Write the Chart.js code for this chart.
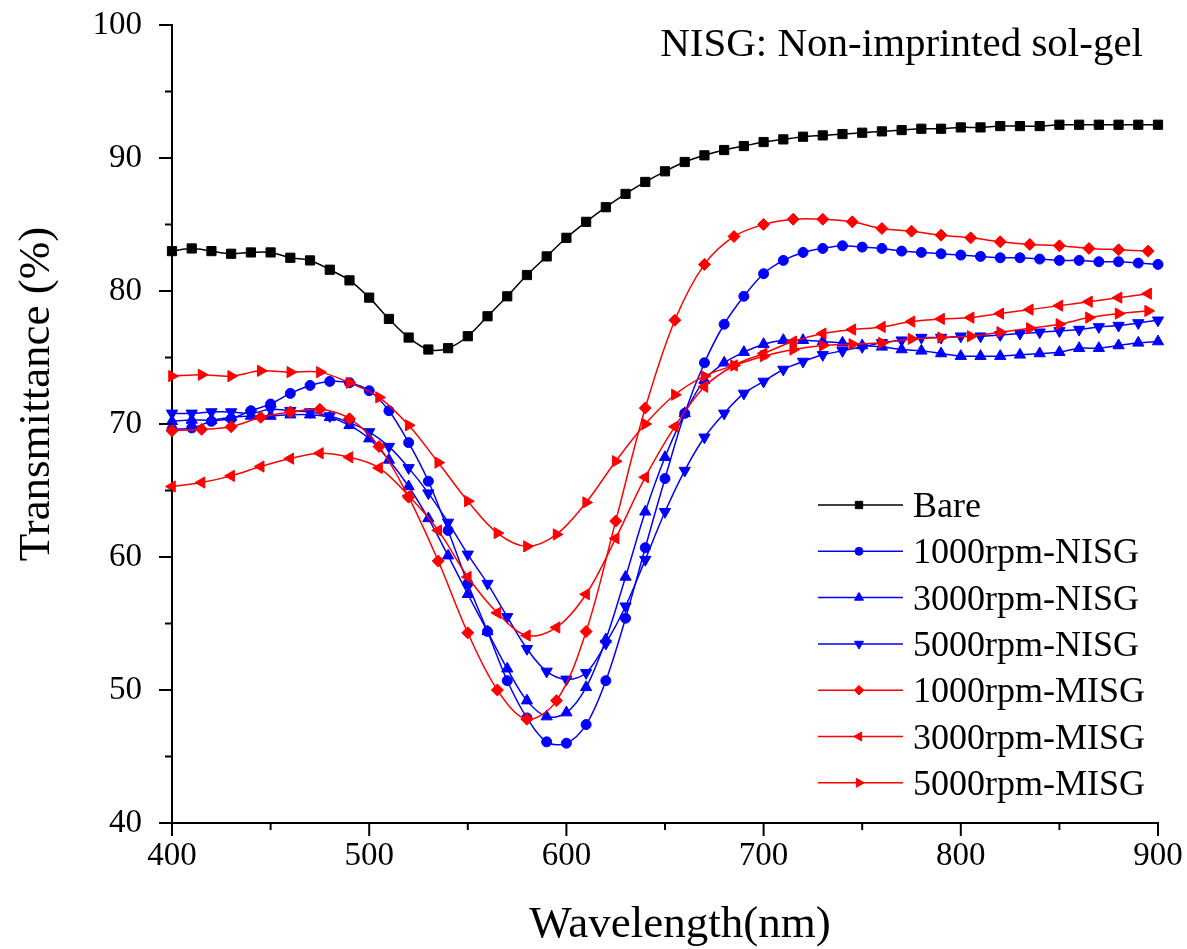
<!DOCTYPE html>
<html>
<head>
<meta charset="utf-8">
<title>Transmittance</title>
<script src="https://cdn.jsdelivr.net/npm/chart.js@4.4.0/dist/chart.umd.min.js"></script>
<style>
  html, body { margin: 0; padding: 0; background: #fff; }
  #wrap { width: 1187px; height: 949px; }
</style>
</head>
<body>
<div id="wrap"><canvas id="transChart" width="1187" height="949"></canvas></div>
<script>
// wavelengths (nm): bare + NISG sampled every 10 nm, MISG every 15 nm
const wl10 = [400, 410, 420, 430, 440, 450, 460, 470, 480, 490,
              500, 510, 520, 530, 540, 550, 560, 570, 580, 590,
              600, 610, 620, 630, 640, 650, 660, 670, 680, 690,
              700, 710, 720, 730, 740, 750, 760, 770, 780, 790,
              800, 810, 820, 830, 840, 850, 860, 870, 880, 890, 900];
const wl15 = [400, 415, 430, 445, 460, 475, 490, 505, 520, 535,
              550, 565, 580, 595, 610, 625, 640, 655, 670, 685,
              700, 715, 730, 745, 760, 775, 790, 805, 820, 835,
              850, 865, 880, 895];

const bare = [83.0, 83.2, 83.0, 82.8, 82.9, 82.9, 82.5, 82.3, 81.6, 80.8,
              79.5, 77.9, 76.5, 75.6, 75.7, 76.6, 78.1, 79.6, 81.2, 82.6,
              84.0, 85.2, 86.3, 87.3, 88.2, 89.0, 89.7, 90.2, 90.6, 90.9,
              91.2, 91.4, 91.6, 91.7, 91.8, 91.9, 92.0, 92.1, 92.2, 92.2,
              92.3, 92.3, 92.4, 92.4, 92.4, 92.5, 92.5, 92.5, 92.5, 92.5, 92.5];
const nisg1000 = [69.6, 69.7, 70.2, 70.4, 71.0, 71.5, 72.3, 72.9, 73.2, 73.1,
                  72.5, 71.0, 68.6, 65.7, 62.0, 58.0, 54.4, 50.7, 47.9, 46.1,
                  46.0, 47.4, 50.7, 55.4, 60.7, 65.9, 70.8, 74.6, 77.5, 79.6,
                  81.3, 82.3, 82.9, 83.2, 83.4, 83.3, 83.2, 83.0, 82.9, 82.8,
                  82.7, 82.6, 82.5, 82.5, 82.4, 82.3, 82.3, 82.2, 82.2, 82.1, 82.0];
const nisg3000 = [70.2, 70.3, 70.3, 70.5, 70.6, 70.6, 70.7, 70.7, 70.5, 69.9,
                  68.9, 67.3, 65.3, 62.9, 60.1, 57.2, 54.4, 51.6, 49.2, 48.0,
                  48.3, 50.2, 53.8, 58.5, 63.4, 67.5, 70.8, 73.3, 74.6, 75.4,
                  76.0, 76.3, 76.3, 76.2, 76.1, 75.9, 75.8, 75.6, 75.5, 75.3,
                  75.1, 75.1, 75.1, 75.2, 75.3, 75.4, 75.7, 75.7, 75.9, 76.1, 76.2];
const nisg5000 = [70.8, 70.8, 70.9, 70.9, 70.8, 71.1, 71.0, 70.9, 70.6, 70.1,
                  69.4, 68.3, 66.7, 64.8, 62.6, 60.2, 58.0, 55.5, 53.1, 51.4,
                  50.8, 51.3, 53.5, 56.3, 59.8, 63.4, 66.5, 69.0, 70.8, 72.3,
                  73.2, 74.1, 74.7, 75.2, 75.5, 75.8, 76.1, 76.3, 76.5, 76.5,
                  76.6, 76.6, 76.7, 76.8, 76.9, 77.0, 77.1, 77.3, 77.4, 77.6, 77.8];
const misg1000 = [69.5, 69.6, 69.8, 70.5, 70.9, 71.1, 70.4, 68.3, 64.5, 59.7,
                  54.3, 50.0, 47.8, 49.2, 54.4, 62.7, 71.2, 77.8, 82.0, 84.1,
                  85.0, 85.4, 85.4, 85.2, 84.7, 84.5, 84.2, 84.0, 83.7, 83.5,
                  83.4, 83.2, 83.1, 83.0];
const misg3000 = [65.3, 65.6, 66.1, 66.8, 67.4, 67.8, 67.5, 66.7, 64.6, 62.0,
                  58.5, 55.8, 54.1, 54.7, 57.2, 61.4, 66.0, 69.8, 72.8, 74.4,
                  75.3, 76.2, 76.8, 77.1, 77.3, 77.7, 77.9, 78.0, 78.3, 78.6,
                  78.9, 79.2, 79.5, 79.8];
const misg5000 = [73.6, 73.7, 73.6, 74.0, 73.9, 73.9, 73.1, 72.0, 69.9, 67.1,
                  64.2, 61.8, 60.8, 61.7, 64.1, 67.2, 70.0, 72.2, 73.6, 74.4,
                  75.1, 75.6, 75.9, 76.0, 76.1, 76.4, 76.5, 76.6, 76.9, 77.2,
                  77.5, 78.0, 78.3, 78.5];

const xTicks = [400, 500, 600, 700, 800, 900];
const yTicks = [40, 50, 60, 70, 80, 90, 100];

const SERIF = '"Liberation Serif", "Times New Roman", serif';

function pairs(xs, ys) {
    return ys.map((v, i) => ({ x: xs[i], y: v }));
}

function series(label, xs, ys, color, style, rotation, radius, order) {
    return {
        label: label,
        data: pairs(xs, ys),
        borderColor: color,
        backgroundColor: color,
        pointBackgroundColor: color,
        pointBorderColor: color,
        borderWidth: 1.5,
        pointStyle: style,
        pointRotation: rotation,
        pointRadius: radius,
        pointBorderWidth: 1,
        tension: 0.35,
        clip: false,
        order: order
    };
}

// outward major/minor ticks, axis titles, note and legend
const decorations = {
    id: 'decorations',
    afterDraw(chart) {
        const { ctx, chartArea, scales: { x, y } } = chart;
        ctx.save();
        ctx.strokeStyle = '#000';
        ctx.lineWidth = 2;
        x.ticks.forEach(t => {
            const px = x.getPixelForValue(t.value);
            const len = xTicks.includes(t.value) ? 13 : 7;
            ctx.beginPath();
            ctx.moveTo(px, chartArea.bottom);
            ctx.lineTo(px, chartArea.bottom + len);
            ctx.stroke();
        });
        y.ticks.forEach(t => {
            const py = y.getPixelForValue(t.value);
            const len = yTicks.includes(t.value) ? 13 : 7;
            ctx.beginPath();
            ctx.moveTo(chartArea.left, py);
            ctx.lineTo(chartArea.left - len, py);
            ctx.stroke();
        });

        ctx.fillStyle = '#000';
        ctx.font = '45px ' + SERIF;
        ctx.textAlign = 'center';
        ctx.textBaseline = 'alphabetic';
        ctx.fillText('Wavelength(nm)', 680, 937);

        ctx.save();
        ctx.translate(49, 394);
        ctx.rotate(-Math.PI / 2);
        ctx.fillText('Transmittance (%)', 0, 0);
        ctx.restore();

        ctx.font = '41px ' + SERIF;
        ctx.textAlign = 'right';
        ctx.fillText('NISG: Non-imprinted sol-gel', 1143, 56);

        // legend
        ctx.font = '36px ' + SERIF;
        ctx.textAlign = 'left';
        chart.data.datasets.forEach((ds, i) => {
            const rowY = 505 + i * 46.3;
            ctx.strokeStyle = ds.borderColor;
            ctx.fillStyle = ds.borderColor;
            ctx.lineWidth = 1.5;
            ctx.beginPath();
            ctx.moveTo(818, rowY);
            ctx.lineTo(903, rowY);
            ctx.stroke();
            ctx.lineWidth = 1;
            Chart.helpers.drawPoint(ctx, {
                pointStyle: ds.pointStyle,
                rotation: ds.pointRotation,
                radius: ds.pointRadius * 0.8,
                borderWidth: 1
            }, 859, rowY);
            ctx.fillStyle = '#000';
            ctx.fillText(ds.label, 913, rowY + 12);
        });
        ctx.restore();
    }
};

function initTransmittanceChart() {
    const ctx = document.getElementById('transChart').getContext('2d');
    new Chart(ctx, {
        type: 'line',
        data: {
            datasets: [
                series('Bare', wl10, bare, '#000000', 'rect', 0, 6.5, 7),
                series('1000rpm-NISG', wl10, nisg1000, '#0000ff', 'circle', 0, 5, 6),
                series('3000rpm-NISG', wl10, nisg3000, '#0000ff', 'triangle', 0, 6.5, 5),
                series('5000rpm-NISG', wl10, nisg5000, '#0000ff', 'triangle', 180, 6.5, 4),
                series('1000rpm-MISG', wl15, misg1000, '#ff0000', 'rectRot', 0, 6, 3),
                series('3000rpm-MISG', wl15, misg3000, '#ff0000', 'triangle', 270, 6.5, 2),
                series('5000rpm-MISG', wl15, misg5000, '#ff0000', 'triangle', 90, 6.5, 1)
            ]
        },
        options: {
            responsive: false,
            animation: false,
            devicePixelRatio: 1,
            layout: { padding: { top: 25, right: 29, left: 0, bottom: 0 } },
            plugins: {
                legend: { display: false },
                tooltip: { enabled: false }
            },
            scales: {
                x: {
                    type: 'linear',
                    min: 400,
                    max: 900,
                    afterFit: scale => {
                        scale.height = 126;
                        scale.paddingLeft = 0;
                        scale.paddingRight = 0;
                    },
                    grid: { display: false, drawTicks: false },
                    border: { display: true, color: '#000', width: 2 },
                    ticks: {
                        stepSize: 50,
                        autoSkip: false,
                        maxRotation: 0,
                        padding: 14,
                        color: '#000',
                        font: { family: SERIF, size: 33 },
                        callback: v => xTicks.includes(v) ? String(v) : ''
                    }
                },
                y: {
                    min: 40,
                    max: 100,
                    afterFit: scale => {
                        scale.width = 172;
                        scale.paddingTop = 0;
                        scale.paddingBottom = 0;
                    },
                    grid: { display: false, drawTicks: false },
                    border: { display: true, color: '#000', width: 2 },
                    ticks: {
                        stepSize: 5,
                        autoSkip: false,
                        padding: 30,
                        color: '#000',
                        font: { family: SERIF, size: 33 },
                        callback: v => yTicks.includes(v) ? String(v) : ''
                    }
                }
            }
        },
        plugins: [decorations]
    });
}

document.addEventListener('DOMContentLoaded', () => {
    initTransmittanceChart();
});
</script>
</body>
</html>
